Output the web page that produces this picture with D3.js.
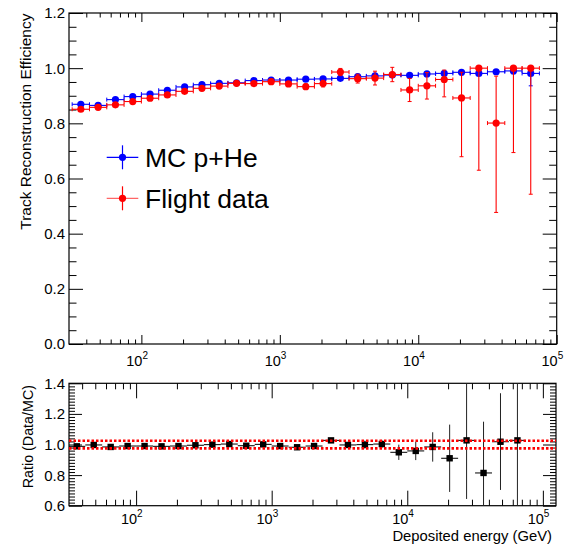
<!DOCTYPE html>
<html><head><meta charset="utf-8">
<script src="https://cdn.jsdelivr.net/npm/d3@7"></script>
<style>
body{margin:0;background:#fff}
svg{display:block}
text{font-family:"Liberation Sans",Arial,Helvetica,sans-serif;fill:#000}
</style>
</head><body>
<svg id="c" width="576" height="544"></svg>
<script>
// ---------------- data ----------------
const binEdges = [31.62, 42.17, 56.23, 74.99, 100, 133.35, 177.83, 237.14, 316.23, 421.70,
  562.34, 749.89, 1000, 1333.52, 1778.28, 2371.37, 3162.28, 4216.97, 5623.41, 7498.94,
  10000, 13335.21, 17782.79, 23713.74, 31622.78, 42169.65, 56234.13, 74989.42];
const binCenters = [36.52, 48.70, 64.94, 86.60, 115.48, 153.99, 205.35, 273.84, 365.17, 486.97,
  649.38, 865.96, 1154.78, 1539.93, 2053.53, 2738.42, 3651.74, 4869.68, 6493.82, 8659.64,
  11547.82, 15399.27, 20535.25, 27384.20, 36517.41, 48696.75, 64938.16];

const mcEff = [0.869,0.865,0.886,0.897,0.906,0.920,0.932,0.940,0.945,0.947,0.955,0.957,0.957,0.960,
  0.961,0.963,0.969,0.972,0.975,0.974,0.979,0.981,0.985,0.981,0.987,0.990,0.981];
const mcErrLow = [0.004,0.004,0.003,0.003,0.003,0.003,0.003,0.003,0.003,0.003,0.003,0.003,0.003,0.003,
  0.003,0.003,0.003,0.003,0.003,0.003,0.004,0.004,0.005,0.006,0.008,0.010,0.045];
const mcErrHigh = [0.004,0.004,0.003,0.003,0.003,0.003,0.003,0.003,0.003,0.003,0.003,0.003,0.003,0.003,
  0.003,0.003,0.003,0.003,0.003,0.003,0.004,0.004,0.005,0.006,0.008,0.008,0.019];

const dataEff = [0.851,0.858,0.867,0.879,0.891,0.903,0.916,0.927,0.935,0.945,0.944,0.951,0.943,0.933,
  0.944,0.986,0.962,0.964,0.977,0.921,0.936,0.959,0.892,1.000,0.801,1.000,1.000];
const dataErrLow = [0.005,0.005,0.005,0.005,0.005,0.005,0.005,0.006,0.006,0.006,0.007,0.007,0.008,0.010,
  0.012,0.013,0.016,0.025,0.026,0.042,0.048,0.063,0.213,0.370,0.324,0.306,0.457];
const dataErrHigh = [0.005,0.005,0.005,0.005,0.005,0.005,0.005,0.006,0.006,0.006,0.007,0.007,0.008,0.010,
  0.012,0.013,0.016,0.025,0.026,0.042,0.048,0.034,0.093,0.000,0.170,0.000,0.000];

const ratio = [0.988,0.997,0.984,0.990,0.990,0.988,0.990,0.995,0.999,1.003,0.992,1.001,0.990,0.982,
  0.990,1.027,0.997,0.999,1.003,0.949,0.958,0.984,0.910,1.027,0.814,1.018,1.027];
const ratioErrLow = [0.008,0.008,0.008,0.008,0.008,0.008,0.008,0.008,0.008,0.008,0.009,0.009,0.010,0.012,
  0.013,0.014,0.017,0.026,0.027,0.050,0.060,0.096,0.220,0.383,0.330,0.315,0.500];
const ratioErrHigh = [0.008,0.008,0.008,0.008,0.008,0.008,0.008,0.008,0.008,0.008,0.009,0.009,0.010,0.012,
  0.013,0.014,0.017,0.026,0.027,0.050,0.060,0.096,0.220,0.500,0.335,0.317,0.500];

const ratioBand = [0.975, 1.025];
const effTicks = [0.0, 0.2, 0.4, 0.6, 0.8, 1.0, 1.2];
const effTickLabels = ["0.0","0.2","0.4","0.6","0.8","1.0","1.2"];
const ratioTicks = [0.6, 0.8, 1.0, 1.2, 1.4];
const ratioTickLabels = ["0.6","0.8","1.0","1.2","1.4"];
const decadeTicks = [100, 1000, 10000, 100000];
const decadeExponents = ["2","3","4","5"];
const legendLabels = ["MC p+He", "Flight data"];
const yTitleTop = "Track Reconstruction Efficiency";
const yTitleBottom = "Ratio (Data/MC)";
const xTitle = "Deposited energy (GeV)";

// ---------------- layout ----------------
const svg = d3.select("#c");
const T = {l:69, r:556.7, t:13, b:344};
const B = {l:69, r:556, t:383.3, b:505.7};
const xTop = d3.scaleLog().domain([30, 1e5]).range([T.l, T.r]);
const yTop = d3.scaleLinear().domain([0, 1.2]).range([T.b, T.t]);
const xBot = d3.scaleLog().domain([32, 1.25e5]).range([B.l, B.r]);
const yBot = d3.scaleLinear().domain([0.6, 1.4]).range([B.b, B.t]);

function logMinors(lo, hi) {
  const out = [];
  for (let e = 1; e <= 5; e++) {
    for (let m = 2; m <= 9; m++) {
      const v = m * Math.pow(10, e);
      if (v > lo && v < hi) out.push(v);
    }
  }
  return out;
}
function linMinors(lo, hi, step, majors) {
  const out = [];
  const n = Math.round((hi - lo) / step);
  for (let i = 0; i <= n; i++) {
    const v = +(lo + i * step).toFixed(4);
    if (!majors.some(m => Math.abs(m - v) < 1e-6)) out.push(v);
  }
  return out;
}

function drawTicks(g, x, y, P, xMajor, xMinor, yMajor, yMinor, L) {
  const gg = g.append("g").attr("class", "ticks");
  const axes = [
    [d3.axisBottom(x).tickValues(xMajor).tickSize(-L.xMaj), `translate(0,${P.b})`],
    [d3.axisBottom(x).tickValues(xMinor).tickSize(-L.xMin), `translate(0,${P.b})`],
    [d3.axisTop(x).tickValues(xMajor).tickSize(-L.xMaj), `translate(0,${P.t})`],
    [d3.axisTop(x).tickValues(xMinor).tickSize(-L.xMin), `translate(0,${P.t})`],
    [d3.axisLeft(y).tickValues(yMajor).tickSize(-L.yMaj), `translate(${P.l},0)`],
    [d3.axisLeft(y).tickValues(yMinor).tickSize(-L.yMin), `translate(${P.l},0)`],
    [d3.axisRight(y).tickValues(yMajor).tickSize(-L.yMaj), `translate(${P.r},0)`],
    [d3.axisRight(y).tickValues(yMinor).tickSize(-L.yMin), `translate(${P.r},0)`]
  ];
  axes.forEach(([ax, tr]) => {
    const a = gg.append("g").attr("transform", tr).call(ax.tickFormat(""));
    a.select(".domain").remove();
    a.selectAll("line").attr("stroke", "#000").attr("stroke-width", 1);
  });
  g.append("rect").attr("x", P.l).attr("y", P.t).attr("width", P.r - P.l).attr("height", P.b - P.t)
    .attr("fill", "none").attr("stroke", "#000").attr("stroke-width", 1.2);
}

// ---------------- top panel ----------------
const gTop = svg.append("g");
drawTicks(gTop, xTop, yTop, T, decadeTicks.filter(d => d <= 1e5), logMinors(30, 1e5),
  effTicks, linMinors(0, 1.2, 0.05, effTicks), {xMaj:9, xMin:4.5, yMaj:14, yMin:7.5});

gTop.selectAll(".ylab").data(effTicks).join("text")
  .attr("x", 65).attr("y", d => yTop(d)).attr("dy", "0.36em")
  .attr("text-anchor", "end").attr("font-size", 15).text((d, i) => effTickLabels[i]);

function decadeLabels(g, x, yBase) {
  decadeTicks.forEach((d, i) => {
    const px = x(d);
    g.append("text").attr("x", px + 1).attr("y", yBase).attr("text-anchor", "end")
      .attr("font-size", 14.5).text("10");
    g.append("text").attr("x", px + 1).attr("y", yBase - 7).attr("text-anchor", "start")
      .attr("font-size", 10).text(decadeExponents[i]);
  });
}
decadeLabels(gTop, xTop, 366);

gTop.append("text").attr("transform", `translate(30.5,${T.t + 0.5}) rotate(-90)`)
  .attr("text-anchor", "end").attr("font-size", 15.5).text(yTitleTop);

function drawSeries(g, x, y, vals, lo, hi, color, r) {
  const s = g.append("g");
  vals.forEach((v, i) => {
    const cy = y(v);
    const x0 = x(binEdges[i]), x1 = x(binEdges[i + 1]);
    s.append("line").attr("x1", x0).attr("x2", x1).attr("y1", cy).attr("y2", cy)
      .attr("stroke", color).attr("stroke-width", 1.1);
    [x0, x1].forEach(xx => s.append("line").attr("x1", xx).attr("x2", xx)
      .attr("y1", cy - 2).attr("y2", cy + 2).attr("stroke", color).attr("stroke-width", 1));
    const yLo = y(v - lo[i]), yHi = y(v + hi[i]);
    s.append("line").attr("x1", x(binCenters[i])).attr("x2", x(binCenters[i]))
      .attr("y1", yLo).attr("y2", yHi).attr("stroke", color).attr("stroke-width", 1.1);
    if (lo[i] > 0) s.append("line").attr("x1", x(binCenters[i]) - 2).attr("x2", x(binCenters[i]) + 2)
      .attr("y1", yLo).attr("y2", yLo).attr("stroke", color).attr("stroke-width", 1);
    if (hi[i] > 0) s.append("line").attr("x1", x(binCenters[i]) - 2).attr("x2", x(binCenters[i]) + 2)
      .attr("y1", yHi).attr("y2", yHi).attr("stroke", color).attr("stroke-width", 1);
  });
  s.selectAll("circle").data(vals).join("circle")
    .attr("cx", (d, i) => x(binCenters[i])).attr("cy", d => y(d)).attr("r", r).attr("fill", color);
}
drawSeries(gTop, xTop, yTop, mcEff, mcErrLow, mcErrHigh, "#0000ff", 3.6);
drawSeries(gTop, xTop, yTop, dataEff, dataErrLow, dataErrHigh, "#ff0000", 3.6);

// legend
const legColors = ["#0000ff", "#ff0000"];
const legY = [157.3, 198.3];
legendLabels.forEach((lab, i) => {
  const gy = legY[i];
  gTop.append("line").attr("x1", 106.7).attr("x2", 138.3).attr("y1", gy).attr("y2", gy)
    .attr("stroke", legColors[i]).attr("stroke-width", 1.2).attr("stroke-opacity", i ? 0.6 : 1);
  gTop.append("line").attr("x1", 122.5).attr("x2", 122.5).attr("y1", gy - 12).attr("y2", gy + 12)
    .attr("stroke", legColors[i]).attr("stroke-width", 1.2);
  gTop.append("circle").attr("cx", 122.5).attr("cy", gy).attr("r", 3.6).attr("fill", legColors[i]);
  gTop.append("text").attr("x", 145).attr("y", gy + 9.3).attr("font-size", 26.5).text(lab);
});

// ---------------- bottom panel ----------------
const gBot = svg.append("g");
drawTicks(gBot, xBot, yBot, B, decadeTicks, logMinors(32, 1.25e5),
  ratioTicks, linMinors(0.6, 1.4, 0.02, ratioTicks), {xMaj:15, xMin:6, yMaj:13, yMin:6});

gBot.selectAll(".ylab").data(ratioTicks).join("text")
  .attr("x", 65).attr("y", d => yBot(d)).attr("dy", "0.36em")
  .attr("text-anchor", "end").attr("font-size", 15).text((d, i) => ratioTickLabels[i]);
decadeLabels(gBot, xBot, 524);

gBot.append("text").attr("transform", `translate(33.3,385) rotate(-90)`)
  .attr("text-anchor", "end").attr("font-size", 14.3).text(yTitleBottom);
gBot.append("text").attr("x", 552).attr("y", 540.5).attr("text-anchor", "end")
  .attr("font-size", 14.8).text(xTitle);

svg.append("clipPath").attr("id", "clipB").append("rect")
  .attr("x", B.l).attr("y", B.t).attr("width", B.r - B.l).attr("height", B.b - B.t);
const gR = gBot.append("g").attr("clip-path", "url(#clipB)");
ratio.forEach((v, i) => {
  const cx = xBot(binCenters[i]), cy = yBot(v);
  gR.append("line").attr("x1", xBot(binEdges[i])).attr("x2", xBot(binEdges[i + 1]))
    .attr("y1", cy).attr("y2", cy).attr("stroke", "#000").attr("stroke-width", 1);
  gR.append("line").attr("x1", cx).attr("x2", cx)
    .attr("y1", yBot(v - ratioErrLow[i])).attr("y2", yBot(v + ratioErrHigh[i]))
    .attr("stroke", "#222").attr("stroke-width", 1);
});
gR.selectAll("rect.m").data(ratio).join("rect").attr("class", "m")
  .attr("x", (d, i) => xBot(binCenters[i]) - 3.2).attr("y", d => yBot(d) - 3.2)
  .attr("width", 6.4).attr("height", 6.4).attr("fill", "#000");
gR.selectAll("line.band").data(ratioBand).join("line").attr("class", "band")
  .attr("x1", B.l).attr("x2", B.r).attr("y1", d => yBot(d)).attr("y2", d => yBot(d))
  .attr("stroke", "#ff0000").attr("stroke-width", 2.6).attr("stroke-dasharray", "2.5,2");
</script>
</body></html>
